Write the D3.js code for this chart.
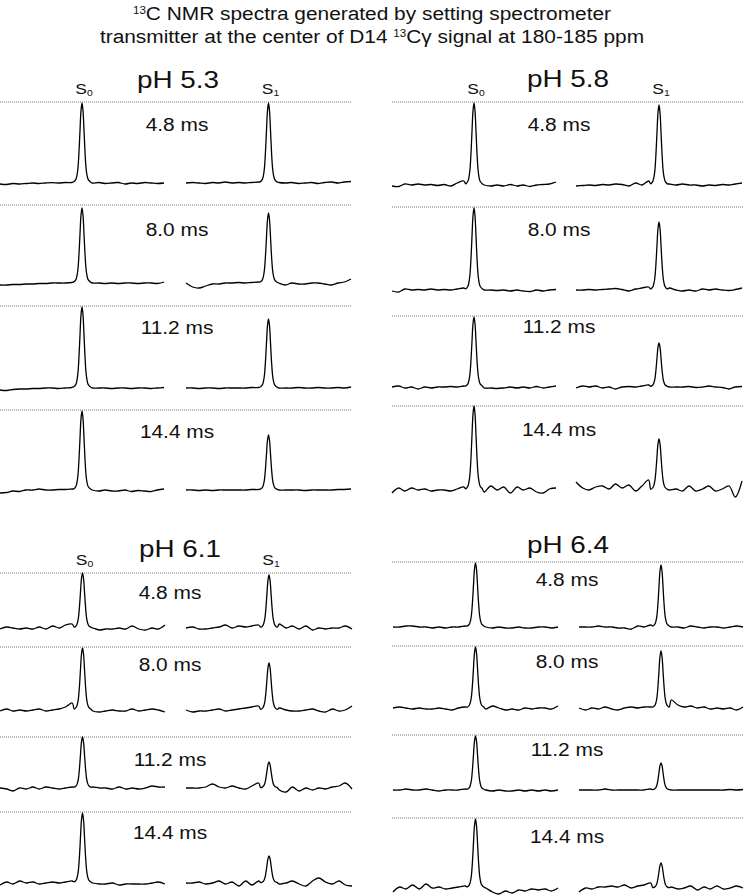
<!DOCTYPE html>
<html>
<head>
<meta charset="utf-8">
<script src="https://cdn.jsdelivr.net/npm/d3@7"></script>
<style>
  body { margin: 0; background: #fff; }
  svg { display: block; }
  text { font-family: "Liberation Sans", Arial, Helvetica, sans-serif; fill: #111; }
</style>
</head>
<body>
<script>
// ---- data ----
var panels = ["pH 5.3", "pH 5.8", "pH 6.1", "pH 6.4"];
var delays = ["4.8 ms", "8.0 ms", "11.2 ms", "14.4 ms"];

// peak intensities (a.u.) per panel, per delay
var s0Height = [[80, 75, 81, 79], [82, 82, 70, 84], [55, 62, 51, 70], [64, 61, 54, 69]];
var s1Height = [[80, 70, 69, 55], [80, 68, 44, 51], [53, 47, 26, 27], [62, 57, 27, 25]];

// peak lineshape (offset from centre in Hz, normalised height)
var lineshapeHz = [0, 2, 4, 6, 8, 10, 12, 16];
var lineshape = [1, 0.9, 0.64, 0.37, 0.18, 0.09, 0.045, 0.015];

// baseline sample positions (Hz from peak centre)
var baseHz = [-160, -147, -135, -122, -109, -96, -84, -71, -58, -45, -33, -20,
               20, 33, 45, 58, 71, 84, 96, 109, 122, 135, 147, 160];

// baseline noise per delay: [S0 trace, S1 trace]
var noise53 = [
  [[-1,-1.5,-0.5,-1,-0.5,0,-0.5,0,0.3,0,0.5,0.5, 0,0.5,-0.5,0,0.5,-1,0,-0.5,0.5,0,-0.5,0],
   [0,0.5,0,-0.5,0.5,0,1,0,0.5,0,0.5,1, 0.5,0,0.5,-0.5,0,0.5,-0.5,0.5,1,0,1,1.5]],
  [[-2,-2,-1.5,-1.5,-1,-1,-0.5,-0.5,0,0,0,0.5, 0,0,-0.5,0,-0.5,0,0,-0.5,0,0,-0.5,1],
   [0,-4,-5,-3,-1,-1,0,0,0.5,0,0.5,1, 0,-2,0,-1,-1,0,0,-1,-2,0,1,4]],
  [[-2,-2.5,-1.5,-1,-1,-0.5,-0.5,0,0,-0.5,0,0.5, 0,0,0,-0.5,0,0,-0.5,0,0,-0.5,0,0.5],
   [0,0,-0.5,0,0,-0.5,0,0,0,0,0.5,0.5, 0,0,0,0.5,0,0,0.5,0,0,0.5,0,1]],
  [[-3,-2.5,-1,-1.5,0,0,1,0,0,0.5,0.5,1, 0,-1,0,-1,-1,0,-1.5,-0.5,-1,-1.5,0,1],
   [0,0,-0.5,0,-0.5,0,0,0,0,0,0.5,0.5, 0,0,0,0,-0.5,0,0,0,0,0.5,0.5,1]]
];
var noise58 = [
  [[-1,-1.5,1,0,1,0,0.5,-0.5,0.5,-1,2,4, 0,-1,0,-1,0.5,-1,0,-1.5,0,0.5,1,3],
   [-1,-0.5,0,-0.5,0.5,0,1,0.5,-1,2,0,4, 1,0,1,0,0,-1,0,-0.5,0.5,0,1,2]],
  [[-1,-2,1,0,0.5,0,1,0,0.5,0,1,2, 0,0,-0.5,0,-1,0,-1,-1.5,0,-1,0,0.5],
   [0,0,0.5,0,0.5,1,1.5,0.5,-1,1,2,3, 2,0,-1,0,-1,1,0,1,0,-0.5,0.5,2]],
  [[0,1,-1,0,-2,0,-1,0,0,0.5,0,1, -1,-1,-1.5,-1,0,-1,0,-1,0.5,-1,0,1],
   [-1,1,0,1,-1,0,-2,0,0.5,0,1,2, 0,0,0,0.5,-0.5,0,1,0,-0.5,-2,0,0.5]],
  [[-3,2,-1,2,0,1,-1,0,0,-1,1,3, -2,4,0,3,-3,3,0,2,-2,-3,1,2],
   [8,2,0,3,4,1,6,2,5,-1,4,10, 0,1,-1,4,-1,1,4,-1,1,4,-7,9]]
];
var noise61 = [
  [[-1,1,0,-1,0,-1,1,-1,2,0,3,4, 0,-2,-1,-1,0,-1,2,-1,-2,0,-1,3],
   [0,1,-1,-1,0,1,3,0,2,1,2,3, 4,0,2,-1,2,-2,0,-1,0,0,2,-1]],
  [[-1,1,-1,0,-1,0,1,-1,0,1,3,7, -1,-2,-1,0,-1,-1,1,-1,0,1,0,-2],
   [0,-2,-1,-1,0,1,-1,0,1,2,3,4, 2,0,-1,-1,0,1,-1,-2,1,-1,0,4]],
  [[0,-1,-3,0,-1,1,-1,1,0,-1,0,1, 1,0,0,-1,1,-1,0,-1,0,2,1,1],
   [0,0,0,1,4,1,0,2,0,-1,2,5, -2,-4,1,-3,0,-2,0,-1,1,2,5,-1]],
  [[-2,1,-1,2,0,1,-1,0,1,0,1,2, 0,-1,-1,0,-2,-1,-1,-1,-1,0,1,-1],
   [0,0,1,-1,0,2,-1,1,-3,2,-2,2, -1,0,2,-1,-3,2,5,1,-1,2,-2,-3]]
];
var noise64 = [
  [[0,0,1,1,0,0,-1,0,-1,0,0,1, 0,-1,0,-1,-1,0,-1,-1,0,0,-1,0],
   [0,0,0,1,0,0,-1,-1,-2,1,0,2, 0,0,-1,1,0,-1,0,0,-1,0,1,0]],
  [[0,1,0,-1,0,-1,-1,0,-1,-2,0,1, -1,2,0,-2,-1,-2,0,-1,0,0,-1,2],
   [0,-2,0,-1,1,-1,-2,0,1,0,1,1, 8,3,1,2,0,1,-1,0,-1,0,-2,1]],
  [[0,0,1,0,0,1,0,-1,0,0,0,1, 0,-1,0,-1,-1,0,-1,0,-1,0,-1,0],
   [0,0,0,0,1,0,0,0,0,0,0,1, 0,0,0,0,0,0,0,0,0,0.5,0,0.5]],
  [[-4,1,-1,3,-1,4,0,1,-1,0,1,2, 0,-4,-6,-3,-5,-2,-3,-1,-2,-1,-3,0],
   [-4,0,-1,1,1,2,1,3,0,2,3,5, 1,-1,0,2,-2,1,-1,2,-1,0,2,0]]
];
var noiseAll = [noise53, noise58, noise61, noise64];

// ---- layout ----
var width = 744, height = 896;
var stretch = 1.16; // lettering in the figure is set wide
var layout = [
  {cx: 178, titleY: 88, labelX: 177, sLabelY: 94, x0: 0, x1: 352,
   rules: [102, 205, 306, 410], bases: [183, 283, 388, 490], textY: [131, 236, 334, 438],
   segs: [[0, 164], [186, 351]], sLabels: true},
  {cx: 568, titleY: 87, labelX: 559, sLabelY: 94, x0: 392, x1: 744,
   rules: [102, 207, 316, 406], bases: [185, 290, 387, 490], textY: [131, 236, 333, 436],
   segs: [[392, 556], [576, 742]], sLabels: true},
  {cx: 180, titleY: 557, labelX: 170, sLabelY: 565, x0: 0, x1: 352,
   rules: [573, 647, 737, 812], bases: [628, 710, 788, 883], textY: [599, 671, 766, 839],
   segs: [[0, 165], [186, 352]], sLabels: true},
  {cx: 568, titleY: 553, labelX: 567, sLabelY: 0, x0: 392, x1: 744,
   rules: [562, 646, 735, 818], bases: [627, 708, 790, 888], textY: [586, 668, 756, 843],
   segs: [[393, 558], [579, 743]], sLabels: false}
];

var svg = d3.select("body").append("svg")
    .attr("width", width)
    .attr("height", height);

function wideText(parent, x, y, size) {
  return parent.append("text")
      .attr("transform", "translate(" + x + "," + y + ") scale(" + stretch + ",1)")
      .attr("text-anchor", "middle")
      .style("font-size", size + "px");
}

// title
var t1 = wideText(svg, width / 2, 20, 18);
t1.append("tspan").attr("font-size", "10px").attr("dy", "-6").text("13");
t1.append("tspan").attr("dy", "6").text("C NMR spectra generated by setting spectrometer");
var t2 = wideText(svg, width / 2, 43, 18);
t2.append("tspan").text("transmitter at the center of D14 ");
t2.append("tspan").attr("font-size", "10px").attr("dy", "-6").text("13");
t2.append("tspan").attr("dy", "6").text("Cγ signal at 180-185 ppm");

function tracePoints(h, nz) {
  var pts = baseHz.map(function(hz, i) { return {hz: hz, v: nz[i]}; });
  lineshapeHz.forEach(function(o, i) {
    pts.push({hz: o, v: h * lineshape[i]});
    if (o > 0) pts.push({hz: -o, v: h * lineshape[i]});
  });
  return pts.sort(function(a, b) { return a.hz - b.hz; });
}

panels.forEach(function(name, p) {
  var L = layout[p];
  var g = svg.append("g");

  var xs = L.segs.map(function(s) {
    return d3.scaleLinear().domain([-160, 160]).range(s);
  });

  wideText(g, L.cx, L.titleY, 24).text(name);

  if (L.sLabels) {
    ["0", "1"].forEach(function(sub, k) {
      var t = wideText(g, xs[k](0) + 2, L.sLabelY, 15);
      t.append("tspan").text("S");
      t.append("tspan").attr("font-size", "9px").attr("dy", "2").text(sub);
    });
  }

  delays.forEach(function(d, r) {
    g.append("line")
        .attr("x1", L.x0).attr("x2", L.x1)
        .attr("y1", L.rules[r]).attr("y2", L.rules[r])
        .attr("stroke", "#777")
        .attr("stroke-width", 1)
        .attr("stroke-dasharray", "1,1");

    wideText(g, L.labelX, L.textY[r], 18).text(d);

    var y = d3.scaleLinear().domain([0, 100]).range([L.bases[r], L.bases[r] - 100]);
    var heights = [s0Height[p][r], s1Height[p][r]];

    xs.forEach(function(x, k) {
      var line = d3.line()
          .x(function(q) { return x(q.hz); })
          .y(function(q) { return y(q.v); })
          .curve(d3.curveCatmullRom.alpha(0.5));
      g.append("path")
          .datum(tracePoints(heights[k], noiseAll[p][r][k]))
          .attr("fill", "none")
          .attr("stroke", "#000")
          .attr("stroke-width", 1.3)
          .attr("stroke-linejoin", "round")
          .attr("d", line);
    });
  });
});
</script>
</body>
</html>
